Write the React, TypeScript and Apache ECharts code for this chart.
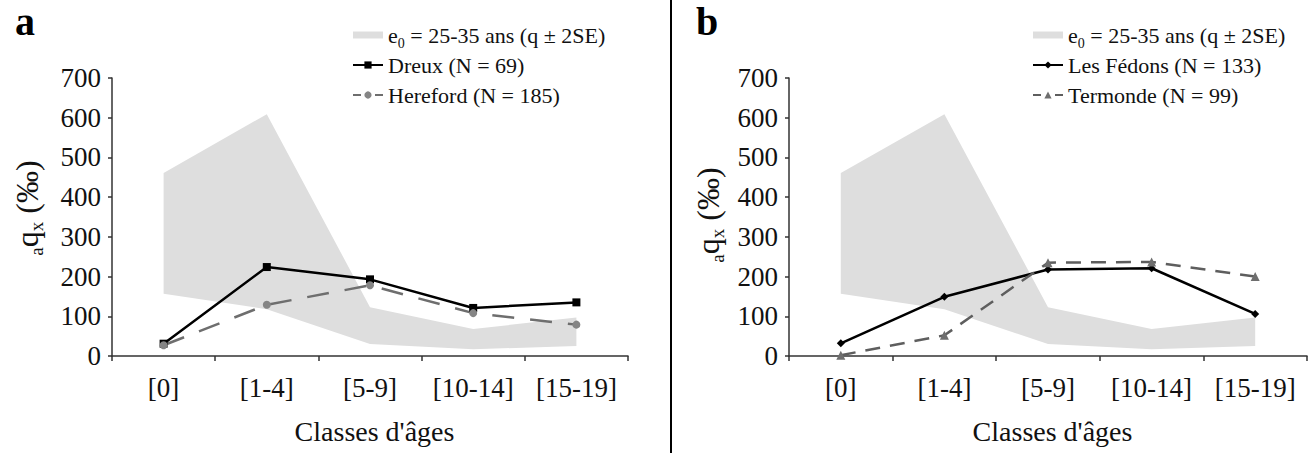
import React, { useEffect, useRef } from "react";
import * as echarts from "echarts";

const CATEGORIES = ["[0]", "[1-4]", "[5-9]", "[10-14]", "[15-19]"];
const BAND_LOWER = [157, 118, 30, 17, 25];
const BAND_UPPER = [461, 609, 123, 68, 97];
const DREUX = [31, 224, 193, 121, 135];
const HEREFORD = [27, 129, 178, 108, 79];
const FEDONS = [32, 149, 218, 221, 106];
const TERMONDE = [2, 52, 235, 237, 200];
const Y_MIN = 0;
const Y_MAX = 700;
const Y_INTERVAL = 100;

const LEGEND_LABELS: Record<string, string> = {
  bandA: "e{sub|0} = 25-35 ans (q ± 2SE)",
  bandB: "e{sub|0} = 25-35 ans (q ± 2SE)",
  dreux: "Dreux (N = 69)",
  hereford: "Hereford (N = 185)",
  fedons: "Les Fédons (N = 133)",
  termonde: "Termonde (N = 99)",
};

const FONT = "Liberation Serif";
const TEXT = "#111";
const BAND_COLOR = "#dedede";

export default function App() {
  const ref = useRef<HTMLDivElement>(null);
  useEffect(() => {
    if (!ref.current) return;
    const chart = echarts.init(ref.current, null, { renderer: "svg" });
    const bandDiff = BAND_UPPER.map((u, i) => u - BAND_LOWER[i]);

    const xAxisBase = (gridIndex: number) => ({
      type: "category",
      gridIndex,
      data: CATEGORIES,
      boundaryGap: true,
      axisLine: { show: true, lineStyle: { color: "#333", width: 1.5 } },
      axisTick: { show: true, length: 5, lineStyle: { color: "#333", width: 1.5 } },
      axisLabel: { fontFamily: FONT, fontSize: 27, color: TEXT, margin: 18, interval: 0, hideOverlap: false },
      name: "Classes d'âges",
      nameLocation: "middle",
      nameGap: 61,
      nameTextStyle: { fontFamily: FONT, fontSize: 28, color: TEXT, padding: [0, 0, 0, 9] },
      splitLine: { show: false },
    });
    const yAxisBase = (gridIndex: number) => ({
      type: "value",
      gridIndex,
      min: Y_MIN,
      max: Y_MAX,
      interval: Y_INTERVAL,
      axisLine: { show: true, lineStyle: { color: "#333", width: 1.5 } },
      axisTick: { show: true, length: 4, lineStyle: { color: "#333", width: 1.5 } },
      axisLabel: { fontFamily: FONT, fontSize: 27, color: TEXT, margin: 11 },
      splitLine: { show: false },
    });

    const bandSeries = (name: string, idx: number) => [
      {
        name: name + "_low",
        type: "line",
        xAxisIndex: idx,
        yAxisIndex: idx,
        stack: name,
        data: BAND_LOWER,
        symbol: "none",
        lineStyle: { opacity: 0 },
        silent: true,
        z: 1,
      },
      {
        name,
        type: "line",
        xAxisIndex: idx,
        yAxisIndex: idx,
        stack: name,
        data: bandDiff,
        symbol: "none",
        color: BAND_COLOR,
        lineStyle: { opacity: 0, width: 0 },
        areaStyle: { color: BAND_COLOR, opacity: 1 },
        silent: true,
        z: 1,
      },
    ];

    const lineSeries = (
      name: string,
      idx: number,
      data: number[],
      color: string,
      markerColor: string,
      symbol: string,
      size: number,
      type: any
    ) => ({
      name,
      type: "line",
      xAxisIndex: idx,
      yAxisIndex: idx,
      data,
      symbol,
      symbolSize: size,
      color: markerColor,
      itemStyle: { color: markerColor },
      lineStyle: { color, width: 2.5, type },
      z: 3,
    });

    const legendText = {
      fontFamily: FONT,
      fontSize: 22,
      color: TEXT,
      lineHeight: 30,
      rich: {
        sub: { fontFamily: FONT, fontSize: 14, lineHeight: 16, verticalAlign: "bottom", color: TEXT },
      },
    };
    const bandIcon = "path://M0,0H30V7H0Z";

    const yTitle = (x: number, y: number) => ({
      type: "text",
      x,
      y,
      rotation: Math.PI / 2,
      style: {
        text: "{sa|a}{q|q}{sx|x}{q| (‰)}",
        align: "center",
        verticalAlign: "middle",
        fill: TEXT,
        rich: {
          q: { fontFamily: FONT, fontSize: 32, lineHeight: 38, fill: TEXT },
          sa: { fontFamily: FONT, fontSize: 19, lineHeight: 16, verticalAlign: "bottom", fill: TEXT },
          sx: { fontFamily: FONT, fontSize: 19, lineHeight: 16, verticalAlign: "bottom", fill: TEXT },
        },
      },
    });

    chart.setOption({
      animation: false,
      backgroundColor: "#fff",
      grid: [
        { left: 112, top: 78, width: 516, height: 278 },
        { left: 789, top: 78, width: 518, height: 278 },
      ],
      xAxis: [xAxisBase(0), xAxisBase(1)],
      yAxis: [yAxisBase(0), yAxisBase(1)],
      legend: [
        {
          orient: "vertical",
          left: 352,
          top: 20,
          itemWidth: 30,
          itemHeight: 9,
          itemGap: 0,
          padding: 0,
          selectedMode: false,
          textStyle: legendText,
          formatter: (n: string) => LEGEND_LABELS[n] || n,
          data: [
            { name: "bandA", icon: bandIcon, itemStyle: { color: BAND_COLOR, borderWidth: 0 } },
            { name: "dreux" },
            { name: "hereford", lineStyle: { type: [8, 14] } },
          ],
        },
        {
          orient: "vertical",
          left: 1032,
          top: 20,
          itemWidth: 30,
          itemHeight: 9,
          itemGap: 0,
          padding: 0,
          selectedMode: false,
          textStyle: legendText,
          formatter: (n: string) => LEGEND_LABELS[n] || n,
          data: [
            { name: "bandB", icon: bandIcon, itemStyle: { color: BAND_COLOR, borderWidth: 0 } },
            { name: "fedons" },
            { name: "termonde", lineStyle: { type: [8, 14] } },
          ],
        },
      ],
      series: [
        ...bandSeries("bandA", 0),
        lineSeries("dreux", 0, DREUX, "#000", "#000", "rect", 8, "solid"),
        lineSeries("hereford", 0, HEREFORD, "#6e6e6e", "#858585", "circle", 8, [22, 16]),
        ...bandSeries("bandB", 1),
        lineSeries("fedons", 1, FEDONS, "#000", "#000", "diamond", 8, "solid"),
        lineSeries("termonde", 1, TERMONDE, "#5e5e5e", "#6e6e6e", "triangle", 9, [15, 10]),
      ],
      graphic: [
        {
          type: "line",
          shape: { x1: 671, y1: 0, x2: 671, y2: 453 },
          style: { stroke: "#000", lineWidth: 2 },
        },
        {
          type: "text",
          x: 25,
          y: 21,
          style: {
            text: "a",
            fontFamily: FONT,
            fontWeight: "bold",
            fontSize: 40,
            lineHeight: 30,
            fill: "#000",
            align: "center",
            verticalAlign: "middle",
          },
        },
        {
          type: "text",
          x: 707,
          y: 21,
          style: {
            text: "b",
            fontFamily: FONT,
            fontWeight: "bold",
            fontSize: 40,
            lineHeight: 30,
            fill: "#000",
            align: "center",
            verticalAlign: "middle",
          },
        },
        yTitle(27, 208),
        yTitle(708, 215),
      ],
    });
    return () => chart.dispose();
  }, []);
  return (
    <div
      ref={ref}
      style={{ position: "absolute", left: 0, top: 0, width: 1310, height: 453, background: "#fff" }}
    />
  );
}
